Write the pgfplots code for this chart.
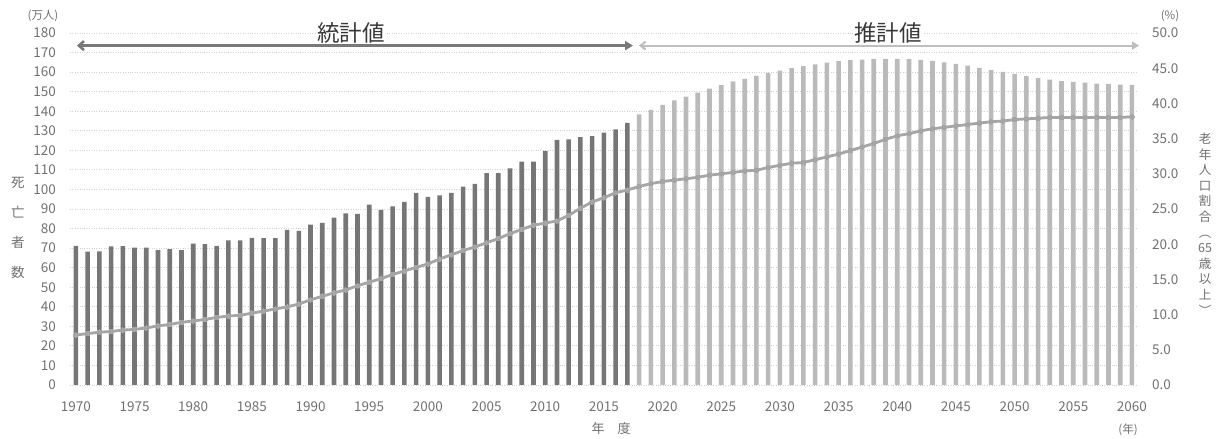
\documentclass[border=0pt]{standalone}
\usepackage{pgfplots}
\pgfplotsset{compat=1.18}
\usepackage{fontspec}
\setmainfont{Noto Sans CJK JP}
\usetikzlibrary{arrows.meta}
\definecolor{darkbar}{RGB}{118,118,118}
\definecolor{lightbar}{RGB}{186,186,186}
\definecolor{linec}{RGB}{165,165,165}
\definecolor{tickc}{RGB}{112,112,112}
\definecolor{gridc}{RGB}{208,208,208}
\definecolor{arrowd}{RGB}{120,120,120}
\definecolor{arrowl}{RGB}{190,190,190}
\begin{document}
\begin{tikzpicture}[x=1pt,y=1pt]
\useasboundingbox (0,0) rectangle (1219,439);
\begin{axis}[
  at={(70pt,54pt)}, anchor=south west, scale only axis,
  width=1066.6pt, height=352pt,
  xmin=1969.5, xmax=2060.4, ymin=0, ymax=180,
  axis line style={draw=none}, major tick length=0pt,
  xtick={1970,1975,...,2060}, ytick={0,10,...,180},
  ymajorgrids, grid style={gridc, dotted, line width=0.9pt},
  ticklabel style={font=\fontsize{13.5}{16}\selectfont, text=tickc},
  /pgf/number format/assume math mode=true,
  /pgf/number format/1000 sep={},
  xticklabel style={anchor=center, yshift=-22pt},
  yticklabel style={anchor=east, xshift=-10.5pt},
  clip=false,
]
\addplot[ybar, bar width=4.6pt, fill=darkbar, draw=none] coordinates {
(1970,71.1) (1971,68.2) (1972,68.3) (1973,70.9) (1974,71.0) (1975,70.2) (1976,70.3) (1977,69.0) (1978,69.5) (1979,69.0)
(1980,72.3) (1981,72.1) (1982,71.1) (1983,74.0) (1984,74.0) (1985,75.2) (1986,75.1) (1987,75.1) (1988,79.3) (1989,78.8)
(1990,82.0) (1991,82.9) (1992,85.6) (1993,87.8) (1994,87.5) (1995,92.2) (1996,89.6) (1997,91.3) (1998,93.6) (1999,98.2)
(2000,96.2) (2001,97.0) (2002,98.2) (2003,101.5) (2004,102.9) (2005,108.4) (2006,108.4) (2007,110.8) (2008,114.2) (2009,114.2)
(2010,119.7) (2011,125.3) (2012,125.6) (2013,126.8) (2014,127.3) (2015,129.0) (2016,130.7) (2017,134.0)
};
\addplot[ybar, bar width=4.6pt, fill=lightbar, draw=none] coordinates {
(2018,138.4) (2019,140.7) (2020,143.2) (2021,145.6) (2022,147.5) (2023,149.5) (2024,151.6) (2025,153.3) (2026,155.2) (2027,156.6)
(2028,158.1) (2029,159.6) (2030,160.8) (2031,162.0) (2032,163.0) (2033,164.0) (2034,164.9) (2035,165.6) (2036,166.1) (2037,166.4)
(2038,166.8) (2039,166.8) (2040,166.8) (2041,166.6) (2042,166.2) (2043,165.7) (2044,165.0) (2045,164.2) (2046,163.3) (2047,162.2)
(2048,161.1) (2049,160.1) (2050,159.1) (2051,157.9) (2052,157.0) (2053,156.2) (2054,155.4) (2055,155.0) (2056,154.6) (2057,154.1)
(2058,154.0) (2059,153.6) (2060,153.5)
};
\end{axis}
\begin{axis}[
  at={(70pt,54pt)}, anchor=south west, scale only axis,
  width=1066.6pt, height=352pt,
  xmin=1969.5, xmax=2060.4, ymin=0, ymax=50,
  axis line style={draw=none}, major tick length=0pt,
  axis y line*=right, xtick=\empty,
  ytick={0,5,...,50},
  ticklabel style={font=\fontsize{13.5}{16}\selectfont, text=tickc},
  /pgf/number format/assume math mode=true,
  yticklabel style={anchor=west, xshift=12pt, /pgf/number format/.cd, fixed, fixed zerofill, precision=1},
  clip=false,
]
\addplot[color=linec, line width=2.8pt, mark=*, mark size=2.3pt, mark options={fill=linec, draw=linec, line width=0pt}] coordinates {
(1970,7.1) (1971,7.3) (1972,7.5) (1973,7.6) (1974,7.8) (1975,7.9) (1976,8.1) (1977,8.4) (1978,8.6) (1979,8.9)
(1980,9.1) (1981,9.3) (1982,9.6) (1983,9.8) (1984,9.9) (1985,10.2) (1986,10.5) (1987,10.8) (1988,11.1) (1989,11.5)
(1990,12.1) (1991,12.6) (1992,13.1) (1993,13.5) (1994,14.1) (1995,14.6) (1996,15.1) (1997,15.7) (1998,16.2) (1999,16.7)
(2000,17.2) (2001,17.9) (2002,18.5) (2003,19.1) (2004,19.6) (2005,20.2) (2006,20.8) (2007,21.5) (2008,22.1) (2009,22.7)
(2010,23.0) (2011,23.3) (2012,24.1) (2013,25.1) (2014,26.0) (2015,26.6) (2016,27.3) (2017,27.7)
(2018,28.2) (2019,28.6) (2020,28.9) (2021,29.1) (2022,29.3) (2023,29.5) (2024,29.8) (2025,30.0) (2026,30.2) (2027,30.4)
(2028,30.5) (2029,30.9) (2030,31.2) (2031,31.5) (2032,31.6) (2033,32.0) (2034,32.4) (2035,32.8) (2036,33.3) (2037,33.8)
(2038,34.3) (2039,34.9) (2040,35.4) (2041,35.7) (2042,36.1) (2043,36.4) (2044,36.6) (2045,36.8) (2046,37.0) (2047,37.2)
(2048,37.4) (2049,37.5) (2050,37.7) (2051,37.8) (2052,37.9) (2053,38.0) (2054,38.0) (2055,38.0) (2056,38.0) (2057,38.0)
(2058,38.0) (2059,38.0) (2060,38.1)
};
\end{axis}
% period arrows
\draw[arrowd, line width=2.6pt, {Straight Barb[length=5pt,width=9pt]}-{Triangle[length=8pt,width=9pt]}] (77,393.4) -- (633,393.4);
\draw[arrowl, line width=2pt, {Straight Barb[length=5pt,width=8pt]}-{Triangle[length=7pt,width=8pt]}] (639,393.4) -- (1139,393.4);
\node[fill=white, inner sep=1pt, text=black!78, font=\fontsize{22.5}{25}\selectfont] at (351,406) {統計値};
\node[fill=white, inner sep=1pt, text=black!78, font=\fontsize{22.5}{25}\selectfont] at (888,406) {推計値};
% unit labels
\node[text=tickc, font=\fontsize{11.5}{13}\selectfont] at (43,423) {(万人)};
\node[text=tickc, font=\fontsize{11.5}{13}\selectfont] at (1170,423) {(\%)};
\node[text=tickc, font=\fontsize{11.5}{13}\selectfont] at (1128,9) {(年)};
\node[text=tickc, font=\fontsize{13}{15}\selectfont] at (611,10) {年\hspace{13pt}度};
% axis titles
\node[text=tickc, align=center, font=\fontsize{13.5}{30}\selectfont] at (18,211) {死\\亡\\者\\数};
\node[text=tickc, align=center, font=\fontsize{12.5}{15.6}\selectfont] at (1205,215) {老\\年\\人\\口\\割\\合\\︵\\65\\歳\\以\\上\\︶};
\end{tikzpicture}
\end{document}
